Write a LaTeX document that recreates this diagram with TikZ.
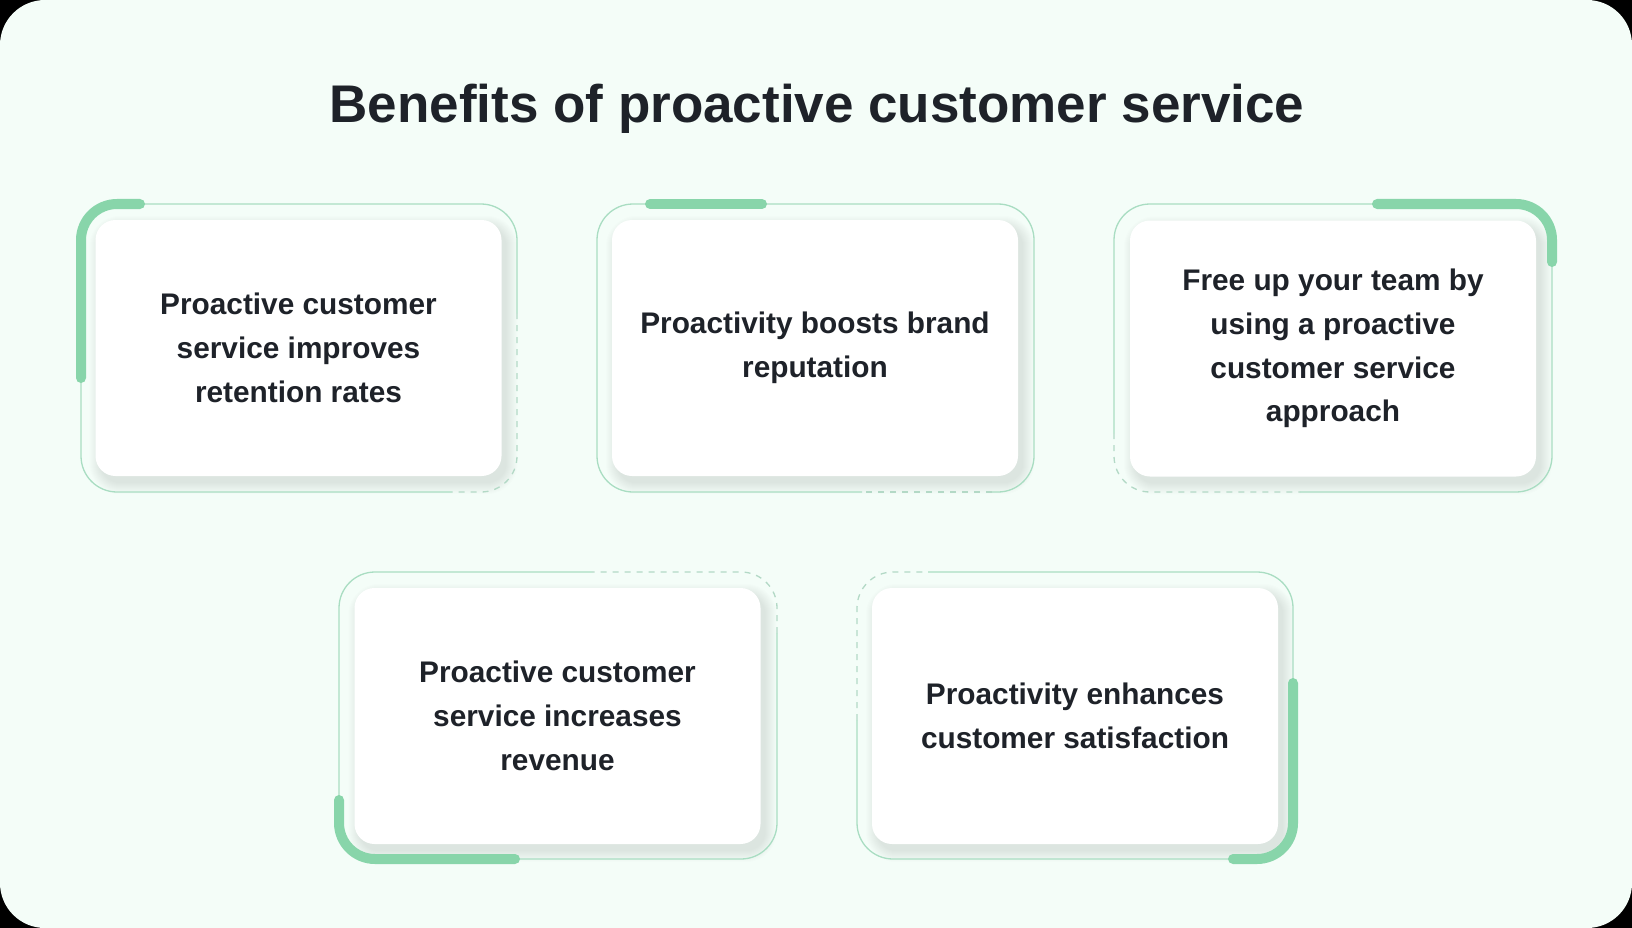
\documentclass[tikz,border=0pt]{standalone}
\usepackage{fontspec}
\setmainfont{Liberation Sans}
\usetikzlibrary{calc}
\definecolor{bgc}{HTML}{F4FDF8}
\definecolor{framec}{HTML}{A9DDC2}
\definecolor{dashc}{HTML}{B3D9C6}
\definecolor{accentc}{HTML}{88D5AA}
\definecolor{txt}{HTML}{1E2229}
\pgfdeclarelayer{back}
\pgfdeclarelayer{shade}
\pgfsetlayers{back,shade,main}
\begin{document}
\begin{tikzpicture}[x=1pt,y=-1pt,
  frameline/.style={draw=framec, line width=1.3pt, rounded corners=36pt},
  dashline/.style={draw=dashc, line width=1.3pt, rounded corners=36pt, dash pattern=on 6pt off 6pt},
  accent/.style={draw=accentc, line width=10pt, line cap=round, rounded corners=36pt},
  card/.style={fill=white, rounded corners=20pt, minimum width=406pt, minimum height=256pt,
    inner sep=0pt, align=center, text=txt, font=\fontsize{29.8}{43.8}\selectfont\bfseries},
  heading/.style={text=txt, font=\fontsize{53}{60}\selectfont\bfseries, anchor=base}]
\begin{pgfonlayer}{back}
  \fill[black] (0,0) rectangle (1632,928);
  \fill[bgc, rounded corners=45pt] (0,0) rectangle (1632,928);
\end{pgfonlayer}
\useasboundingbox (0,0) rectangle (1632,928);

\node[heading] (title) at (817,123) {Benefits of proactive customer service};

% frames
% card 1
\draw[frameline] (452,492) -- (81,492) -- (81,204) -- (517,204) -- (517,313);
\draw[dashline] (517,313) -- (517,492) -- (452,492);
\draw[accent] (140,204) -- (81,204) -- (81,378);
% card 2
\draw[frameline] (862,492) -- (597,492) -- (597,204) -- (1034,204) -- (1034,492) -- (992,492);
\draw[dashline] (992,492) -- (862,492);
\draw[accent] (650,204) -- (762,204);
% card 3
\draw[frameline] (1300,492) -- (1552,492) -- (1552,204) -- (1114,204) -- (1114,433);
\draw[dashline] (1114,433) -- (1114,492) -- (1300,492);
\draw[accent] (1377,204) -- (1552,204) -- (1552,262);
% card 4
\draw[frameline] (592,572) -- (339,572) -- (339,859) -- (777,859) -- (777,633);
\draw[dashline] (777,633) -- (777,572) -- (592,572);
\draw[accent] (339,800) -- (339,859) -- (515,859);
% card 5
\draw[frameline] (928,572) -- (1293,572) -- (1293,859) -- (857,859) -- (857,720);
\draw[dashline] (857,720) -- (857,572) -- (928,572);
\draw[accent] (1293,683) -- (1293,859) -- (1233,859);

% cards
\node[card] (c1) at (298.5,348) {Proactive customer\\service improves\\retention rates};
\node[card] (c2) at (815,348) {Proactivity boosts brand\\reputation};
\node[card] (c3) at (1333,348.5) {Free up your team by\\using a proactive\\customer service\\approach};
\node[card] (c4) at (557.5,716) {Proactive customer\\service increases\\revenue};
\node[card] (c5) at (1075,716) {Proactivity enhances\\customer satisfaction};

\begin{pgfonlayer}{shade}
\foreach \n in {c1,c2,c3,c4,c5}{
  \foreach \k in {0,...,11}{
    \pgfmathsetmacro\rr{20+\k}
    \fill[black, opacity=0.009, rounded corners=\rr pt]
      ($(\n.south west)+(5-\k,7+\k)$) rectangle ($(\n.north east)+(5+\k,7-\k)$);
  }
}
\end{pgfonlayer}
\end{tikzpicture}
\end{document}
